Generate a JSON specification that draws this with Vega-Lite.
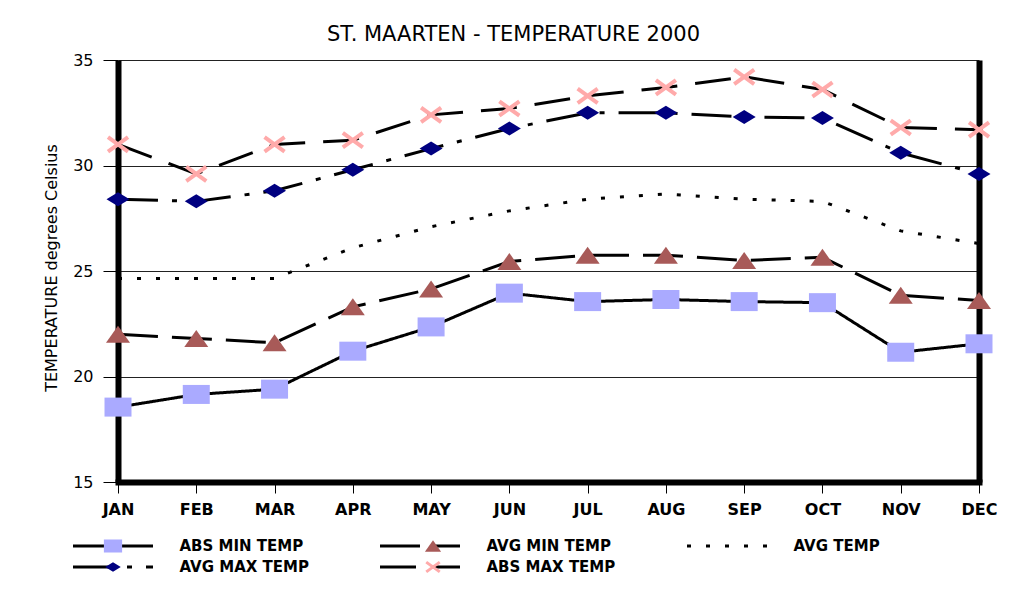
{
  "$schema": "https://vega.github.io/schema/vega-lite/v6.json",
  "width": 861,
  "height": 422,
  "autosize": {"type": "none"},
  "padding": {"left": 118, "top": 60, "right": 36, "bottom": 119},
  "background": "white",
  "title": {
    "text": "ST. MAARTEN - TEMPERATURE 2000",
    "font": "DejaVu Sans",
    "fontSize": 21,
    "fontWeight": "normal",
    "color": "black",
    "anchor": "middle",
    "dx": -35,
    "offset": 7
  },
  "data": {
    "values": [
      {"month": "JAN", "series": "ABS MIN TEMP", "temp": 18.55},
      {"month": "FEB", "series": "ABS MIN TEMP", "temp": 19.15},
      {"month": "MAR", "series": "ABS MIN TEMP", "temp": 19.4},
      {"month": "APR", "series": "ABS MIN TEMP", "temp": 21.2},
      {"month": "MAY", "series": "ABS MIN TEMP", "temp": 22.35},
      {"month": "JUN", "series": "ABS MIN TEMP", "temp": 23.95},
      {"month": "JUL", "series": "ABS MIN TEMP", "temp": 23.55},
      {"month": "AUG", "series": "ABS MIN TEMP", "temp": 23.65},
      {"month": "SEP", "series": "ABS MIN TEMP", "temp": 23.55},
      {"month": "OCT", "series": "ABS MIN TEMP", "temp": 23.5},
      {"month": "NOV", "series": "ABS MIN TEMP", "temp": 21.15},
      {"month": "DEC", "series": "ABS MIN TEMP", "temp": 21.55},
      {"month": "JAN", "series": "AVG MIN TEMP", "temp": 22.0},
      {"month": "FEB", "series": "AVG MIN TEMP", "temp": 21.8},
      {"month": "MAR", "series": "AVG MIN TEMP", "temp": 21.6},
      {"month": "APR", "series": "AVG MIN TEMP", "temp": 23.3},
      {"month": "MAY", "series": "AVG MIN TEMP", "temp": 24.15},
      {"month": "JUN", "series": "AVG MIN TEMP", "temp": 25.45},
      {"month": "JUL", "series": "AVG MIN TEMP", "temp": 25.75},
      {"month": "AUG", "series": "AVG MIN TEMP", "temp": 25.75},
      {"month": "SEP", "series": "AVG MIN TEMP", "temp": 25.5},
      {"month": "OCT", "series": "AVG MIN TEMP", "temp": 25.65},
      {"month": "NOV", "series": "AVG MIN TEMP", "temp": 23.85},
      {"month": "DEC", "series": "AVG MIN TEMP", "temp": 23.6},
      {"month": "JAN", "series": "AVG TEMP", "temp": 24.65},
      {"month": "FEB", "series": "AVG TEMP", "temp": 24.65},
      {"month": "MAR", "series": "AVG TEMP", "temp": 24.65},
      {"month": "APR", "series": "AVG TEMP", "temp": 26.1},
      {"month": "MAY", "series": "AVG TEMP", "temp": 27.1},
      {"month": "JUN", "series": "AVG TEMP", "temp": 27.85},
      {"month": "JUL", "series": "AVG TEMP", "temp": 28.4},
      {"month": "AUG", "series": "AVG TEMP", "temp": 28.65},
      {"month": "SEP", "series": "AVG TEMP", "temp": 28.4},
      {"month": "OCT", "series": "AVG TEMP", "temp": 28.3},
      {"month": "NOV", "series": "AVG TEMP", "temp": 26.9},
      {"month": "DEC", "series": "AVG TEMP", "temp": 26.3},
      {"month": "JAN", "series": "AVG MAX TEMP", "temp": 28.4},
      {"month": "FEB", "series": "AVG MAX TEMP", "temp": 28.3},
      {"month": "MAR", "series": "AVG MAX TEMP", "temp": 28.8},
      {"month": "APR", "series": "AVG MAX TEMP", "temp": 29.8},
      {"month": "MAY", "series": "AVG MAX TEMP", "temp": 30.8},
      {"month": "JUN", "series": "AVG MAX TEMP", "temp": 31.75},
      {"month": "JUL", "series": "AVG MAX TEMP", "temp": 32.5},
      {"month": "AUG", "series": "AVG MAX TEMP", "temp": 32.5},
      {"month": "SEP", "series": "AVG MAX TEMP", "temp": 32.3},
      {"month": "OCT", "series": "AVG MAX TEMP", "temp": 32.25},
      {"month": "NOV", "series": "AVG MAX TEMP", "temp": 30.6},
      {"month": "DEC", "series": "AVG MAX TEMP", "temp": 29.6},
      {"month": "JAN", "series": "ABS MAX TEMP", "temp": 31.0},
      {"month": "FEB", "series": "ABS MAX TEMP", "temp": 29.6},
      {"month": "MAR", "series": "ABS MAX TEMP", "temp": 31.0},
      {"month": "APR", "series": "ABS MAX TEMP", "temp": 31.2},
      {"month": "MAY", "series": "ABS MAX TEMP", "temp": 32.4},
      {"month": "JUN", "series": "ABS MAX TEMP", "temp": 32.7},
      {"month": "JUL", "series": "ABS MAX TEMP", "temp": 33.3},
      {"month": "AUG", "series": "ABS MAX TEMP", "temp": 33.7},
      {"month": "SEP", "series": "ABS MAX TEMP", "temp": 34.2},
      {"month": "OCT", "series": "ABS MAX TEMP", "temp": 33.6},
      {"month": "NOV", "series": "ABS MAX TEMP", "temp": 31.8},
      {"month": "DEC", "series": "ABS MAX TEMP", "temp": 31.7}
    ]
  },
  "encoding": {
    "x": {
      "field": "month",
      "type": "ordinal",
      "sort": ["JAN", "FEB", "MAR", "APR", "MAY", "JUN", "JUL", "AUG", "SEP", "OCT", "NOV", "DEC"],
      "scale": {"type": "point", "padding": 0},
      "axis": {
        "title": null,
        "labelAngle": 0,
        "labelFont": "DejaVu Sans",
        "labelFontSize": 16,
        "labelFontWeight": "bold",
        "labelColor": "black",
        "labelPadding": 8,
        "tickSize": 11,
        "tickColor": "black",
        "tickWidth": 1,
        "domainColor": "black",
        "domainWidth": 6,
        "domainCap": "square",
        "grid": false
      }
    }
  },
  "layer": [
    {
      "mark": {"type": "line", "color": "black", "strokeWidth": 3, "strokeCap": "butt"},
      "encoding": {
        "y": {
          "field": "temp",
          "type": "quantitative",
          "scale": {"domain": [15, 35], "nice": false, "zero": false},
          "axis": {
            "orient": "left",
            "values": [15, 20, 25, 30, 35],
            "title": "TEMPERATURE degrees Celsius",
            "titleFont": "DejaVu Sans",
            "titleFontSize": 16,
            "titleFontWeight": "normal",
            "titleColor": "black",
            "titleX": -66.5,
            "titleY": 207.5,
            "titleAngle": -90,
            "titleAlign": "center",
            "titleBaseline": "middle",
            "labelFont": "DejaVu Sans",
            "labelFontSize": 16,
            "labelColor": "black",
            "labelPadding": 10,
            "tickSize": 15,
            "tickColor": "black",
            "tickWidth": 1,
            "domainColor": "black",
            "domainWidth": 6,
            "grid": true,
            "gridColor": "#222222",
            "gridWidth": 1
          }
        },
        "strokeDash": {
          "field": "series",
          "type": "nominal",
          "scale": {
            "domain": ["ABS MIN TEMP", "AVG MIN TEMP", "AVG TEMP", "AVG MAX TEMP", "ABS MAX TEMP"],
            "range": [[1, 0], [40, 14], [4, 15], [40, 14, 5, 14], [36, 18]]
          },
          "legend": {
            "symbolType": "stroke",
            "symbolStrokeColor": "black",
            "zindex": 0
          }
        }
      }
    },
    {
      "mark": {"type": "point", "size": 6400, "strokeWidth": 4, "opacity": 1},
      "encoding": {
        "y": {
          "field": "temp",
          "type": "quantitative",
          "scale": {"domain": [15, 35], "nice": false, "zero": false},
          "axis": {
            "orient": "right",
            "domain": true,
            "domainColor": "black",
            "domainWidth": 6,
            "ticks": false,
            "labels": false,
            "grid": false,
            "title": null
          }
        },
        "shape": {
          "field": "series",
          "type": "nominal",
          "scale": {
            "domain": ["ABS MAX TEMP", "AVG MAX TEMP", "AVG TEMP", "AVG MIN TEMP", "ABS MIN TEMP"],
            "range": [
              "M-0.25,-0.18L0.25,0.18M-0.25,0.18L0.25,-0.18",
              "M-0.2875,0L0,-0.175L0.2875,0L0,0.175Z",
              "M0,0L0.01,0",
              "M0,-0.2125L0.3,0.2125L-0.3,0.2125Z",
              "M-0.3375,-0.2375H0.3375V0.2375H-0.3375Z"
            ]
          },
          "legend": {
            "values": ["ABS MIN TEMP", "AVG MIN TEMP", "AVG TEMP", "AVG MAX TEMP", "ABS MAX TEMP"],
            "labelExpr": "''",
            "zindex": 1,
            "symbolSize": 2916,
            "symbolOffset": 13,
            "labelOffset": 51,
            "columnPadding": 199
          }
        },
        "fill": {
          "field": "series",
          "type": "nominal",
          "scale": {
            "domain": ["ABS MAX TEMP", "AVG MAX TEMP", "AVG TEMP", "AVG MIN TEMP", "ABS MIN TEMP"],
            "range": ["transparent", "#000080", "transparent", "#A85A58", "#AAAAFF"]
          },
          "legend": {
            "values": ["ABS MIN TEMP", "AVG MIN TEMP", "AVG TEMP", "AVG MAX TEMP", "ABS MAX TEMP"],
            "labelExpr": "''",
            "zindex": 1,
            "symbolSize": 2916,
            "symbolOffset": 13,
            "labelOffset": 51,
            "columnPadding": 199
          }
        },
        "stroke": {
          "field": "series",
          "type": "nominal",
          "scale": {
            "domain": ["ABS MAX TEMP", "AVG MAX TEMP", "AVG TEMP", "AVG MIN TEMP", "ABS MIN TEMP"],
            "range": ["#FFAAAA", "transparent", "transparent", "transparent", "transparent"]
          },
          "legend": {
            "values": ["ABS MIN TEMP", "AVG MIN TEMP", "AVG TEMP", "AVG MAX TEMP", "ABS MAX TEMP"],
            "labelExpr": "''",
            "zindex": 1,
            "symbolSize": 2916,
            "symbolOffset": 13,
            "labelOffset": 51,
            "columnPadding": 199
          }
        }
      }
    }
  ],
  "resolve": {"axis": {"y": "independent"}},
  "config": {
    "view": {"stroke": null},
    "font": "DejaVu Sans",
    "legend": {
      "orient": "none",
      "direction": "horizontal",
      "legendX": -46.5,
      "legendY": 475.5,
      "columns": 3,
      "title": null,
      "labelFont": "DejaVu Sans",
      "labelFontSize": 15,
      "labelFontWeight": "bold",
      "labelColor": "black",
      "labelLimit": 300,
      "labelOffset": 25,
      "symbolSize": 6400,
      "symbolStrokeWidth": 3,
      "clipHeight": 21,
      "rowPadding": 0,
      "columnPadding": 69,
      "gridAlign": "all",
      "padding": 0
    }
  }
}
